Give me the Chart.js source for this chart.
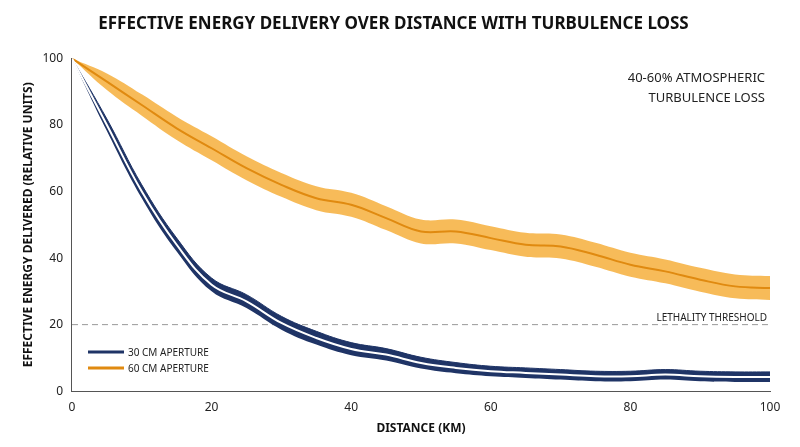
<!DOCTYPE html>
<html><head><script src="https://cdn.jsdelivr.net/npm/chart.js@4"></script>
<style>body{margin:0;background:#fff}#w{width:800px;height:447px}</style></head>
<body><div id="w"><canvas id="c"></canvas></div>
<script>
const distances=[0,5,10,15,20,25,30,35,40,45,50,55,60,65,70,75,80,85,90,95,100];
const energy30=[100,80,60,44,32,27,20.5,16,12.7,11,8.5,7,6,5.5,5,4.5,4.5,5,4.5,4.3,4.3];
const spread30=[0,1.8,2,2,2,2,2,2,1.9,1.8,1.7,1.6,1.5,1.5,1.5,1.5,1.5,1.5,1.5,1.5,1.5];
const energy60=[100,93,86,79,73,67,62,58,56,52,48,48,46,44,43.5,41,38,36,33.5,31.5,31];
const spread60=[0,2.5,3.2,3.5,3.6,3.6,3.6,3.6,3.6,3.6,3.6,3.6,3.6,3.6,3.6,3.6,3.6,3.6,3.6,3.6,3.6];
const pts=(a,f)=>distances.map((x,i)=>({x,y:f(a[i],i)}));
const navy='#1f3466', orange='#e08a10';
const F='"Noto Sans", sans-serif';
const base={pointRadius:0,tension:0.4,borderWidth:0};
const overlay={id:'ov',afterDraw(ch){const c=ch.ctx,a=ch.chartArea,y=ch.scales.y;
c.save();c.font='13px '+F;c.fillStyle='#222';c.textAlign='right';
c.fillText('40-60% ATMOSPHERIC',a.right-5,82);c.fillText('TURBULENCE LOSS',a.right-5,102);
c.font='10px '+F;c.fillText('LETHALITY THRESHOLD',a.right-3,y.getPixelForValue(20)-4);
c.textAlign='left';c.lineWidth=3;
[[navy,'30 CM APERTURE',352],[orange,'60 CM APERTURE',368]].forEach(([col,t,yy])=>{c.strokeStyle=col;c.beginPath();c.moveTo(88,yy);c.lineTo(124,yy);c.stroke();c.fillStyle='#222';c.fillText(t,128,yy+4);});
c.restore();},
beforeDatasetsDraw(ch){const c=ch.ctx,a=ch.chartArea,y=ch.scales.y.getPixelForValue(20);c.save();c.setLineDash([6,4]);c.strokeStyle='#999';c.lineWidth=1;c.beginPath();c.moveTo(a.left,y);c.lineTo(a.right,y);c.stroke();c.restore();}};
new Chart(document.getElementById('c'),{type:'line',
data:{datasets:[
{...base,order:6,data:pts(energy60,(v,i)=>v-spread60[i]),fill:false,borderColor:'transparent'},
{...base,order:5,data:pts(energy60,(v,i)=>v+spread60[i]),fill:'-1',backgroundColor:'rgba(246,175,60,0.85)',borderColor:'transparent'},
{...base,order:4,data:pts(energy60,v=>v),borderWidth:2,borderColor:orange,fill:false},
{...base,order:3,data:pts(energy30,(v,i)=>v-spread30[i]),fill:false,borderColor:'transparent'},
{...base,order:2,data:pts(energy30,(v,i)=>v+spread30[i]),fill:'-1',backgroundColor:navy,borderColor:navy,borderWidth:1},
{...base,order:1,data:pts(energy30,v=>v),borderWidth:2,borderColor:'#fff',fill:false}
]},
options:{responsive:true,maintainAspectRatio:false,animation:false,
layout:{padding:{left:17,right:30,top:8,bottom:7}},
plugins:{legend:{display:false},tooltip:{enabled:false},
title:{display:true,text:'EFFECTIVE ENERGY DELIVERY OVER DISTANCE WITH TURBULENCE LOSS',font:{family:F,size:17,weight:'bold'},color:'#111',padding:{top:6,bottom:24}}},
scales:{x:{type:'linear',min:0,max:100,ticks:{stepSize:20,color:'#222',font:{family:F,size:12}},grid:{display:false,tickLength:6},border:{color:'#555'},
title:{display:true,text:'DISTANCE (KM)',font:{family:F,size:12,weight:'bold'},color:'#111'}},
y:{min:0,max:100,ticks:{stepSize:20,color:'#222',font:{family:F,size:12}},grid:{display:false,tickLength:6},border:{color:'#555'},
title:{display:true,text:'EFFECTIVE ENERGY DELIVERED (RELATIVE UNITS)',font:{family:F,size:12,weight:'bold'},color:'#111'}}}},
plugins:[overlay]});
</script></body></html>
